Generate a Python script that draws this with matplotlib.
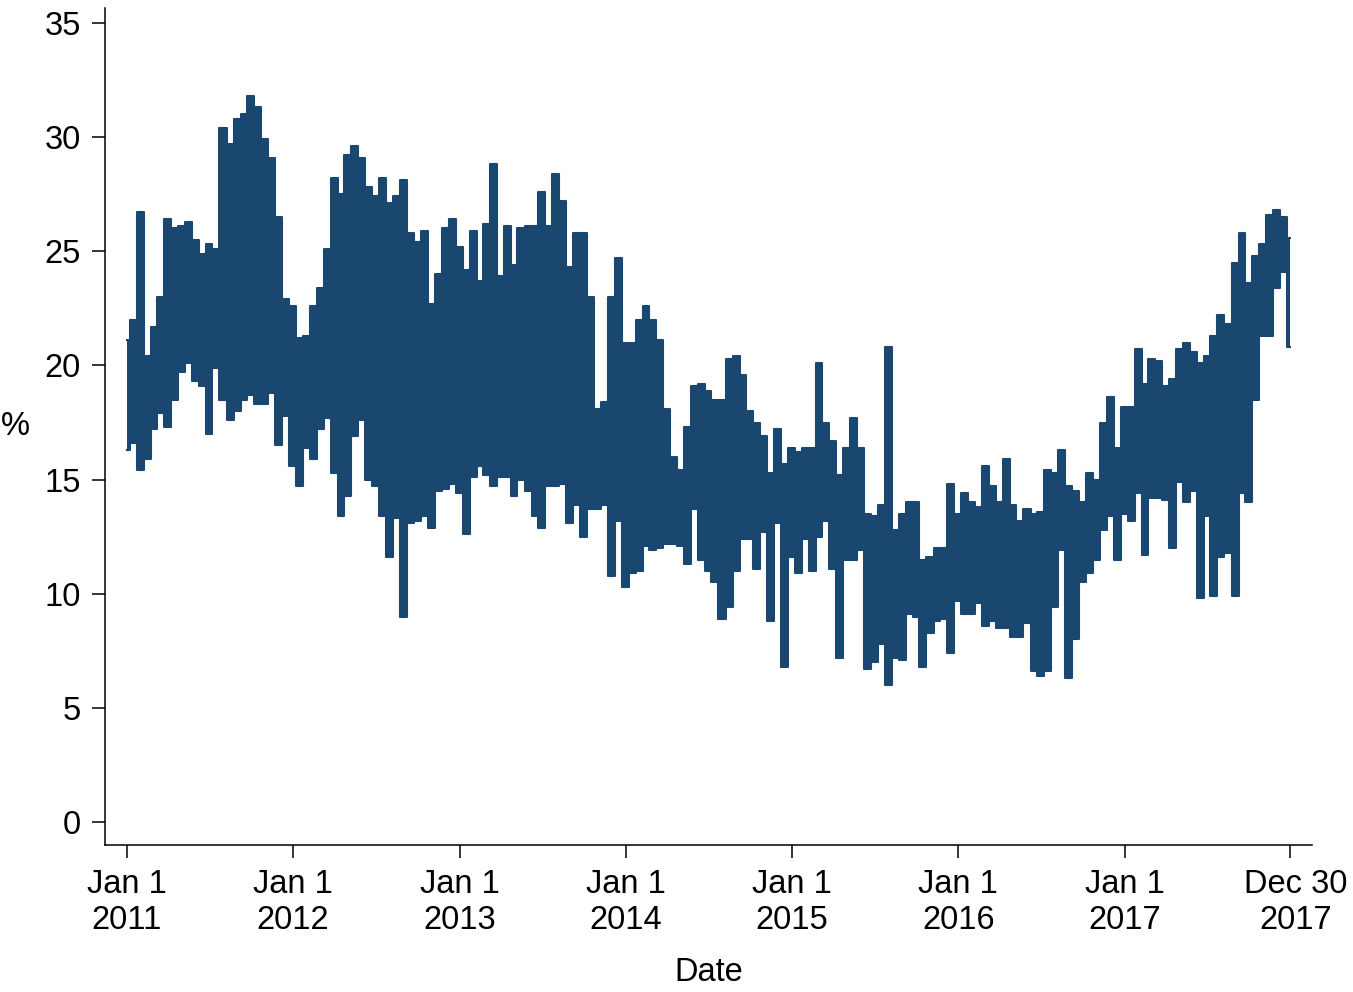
import matplotlib
matplotlib.use('Agg')
import matplotlib.pyplot as plt
import matplotlib.transforms as mtransforms
import pandas as pd

plt.rcParams['font.family'] = ['Liberation Sans', 'DejaVu Sans']

NAVY = '#1a476f'

# semi-monthly sampling of the daily series: upper and lower envelope per half month
dates = list(pd.date_range('2011-01-01', '2017-12-15', freq='SMS')) + [pd.Timestamp('2017-12-30')]

high = [21.1, 22.0, 26.7, 20.4, 21.7, 23.0, 26.4, 26.0, 26.1, 26.3,
        25.5, 24.9, 25.3, 25.1, 30.4, 29.7, 30.8, 31.0, 31.8, 31.3,
        29.9, 29.1, 26.5, 22.9, 22.6, 21.2, 21.3, 22.6, 23.4, 25.1,
        28.2, 27.5, 29.2, 29.6, 29.1, 27.8, 27.4, 28.2, 27.1, 27.4,
        28.1, 25.8, 25.4, 25.9, 22.7, 24.0, 26.0, 26.4, 25.2, 24.2,
        25.9, 23.7, 26.2, 28.8, 23.9, 26.1, 24.4, 26.0, 26.1, 26.1,
        27.6, 26.1, 28.4, 27.2, 24.3, 25.8, 25.8, 23.0, 18.1, 18.4,
        23.0, 24.7, 21.0, 21.0, 22.0, 22.6, 22.0, 21.1, 18.1, 16.0,
        15.4, 17.3, 19.1, 19.2, 18.9, 18.5, 18.5, 20.3, 20.4, 19.6,
        18.0, 17.5, 16.9, 15.3, 17.2, 15.7, 16.4, 16.2, 16.4, 16.4,
        20.1, 17.5, 16.7, 15.2, 16.4, 17.7, 16.4, 13.5, 13.4, 13.9,
        20.8, 12.8, 13.5, 14.0, 14.0, 11.5, 11.6, 12.0, 12.0, 14.8,
        13.5, 14.4, 14.0, 13.8, 15.6, 14.7, 14.0, 15.9, 13.9, 13.2,
        13.7, 13.5, 13.6, 15.4, 15.3, 16.3, 14.7, 14.5, 14.0, 15.3,
        15.0, 17.5, 18.6, 16.4, 18.2, 18.2, 20.7, 19.2, 20.3, 20.2,
        19.1, 19.4, 20.7, 21.0, 20.6, 20.1, 20.4, 21.3, 22.2, 21.8,
        24.5, 25.8, 23.6, 24.8, 25.3, 26.6, 26.8, 26.5,
        25.6]

low = [16.3, 16.6, 15.4, 15.9, 17.2, 17.9, 17.3, 18.5, 19.7, 20.1,
       19.3, 19.1, 17.0, 19.9, 18.5, 17.6, 18.0, 18.5, 18.7, 18.3,
       18.3, 18.8, 16.5, 17.8, 15.6, 14.7, 16.4, 15.9, 17.2, 17.7,
       15.3, 13.4, 14.3, 16.9, 17.6, 15.0, 14.7, 13.4, 11.6, 13.3,
       9.0, 13.1, 13.2, 13.4, 12.9, 14.5, 14.6, 14.8, 14.4, 12.6,
       15.1, 15.6, 15.2, 14.7, 15.1, 15.1, 14.3, 15.0, 14.5, 13.4,
       12.9, 14.7, 14.7, 14.8, 13.1, 13.9, 12.5, 13.7, 13.7, 13.9,
       10.8, 13.2, 10.3, 10.9, 11.0, 12.1, 11.9, 12.0, 12.2, 12.2,
       12.1, 11.3, 13.7, 11.5, 11.0, 10.5, 8.9, 9.4, 11.0, 12.4,
       12.4, 11.1, 12.7, 8.8, 13.1, 6.8, 11.6, 10.9, 12.4, 11.0,
       12.5, 13.2, 11.1, 7.2, 11.5, 11.5, 11.9, 6.7, 7.0, 7.8,
       6.0, 7.2, 7.1, 9.1, 9.0, 6.8, 8.3, 8.8, 8.9, 7.4,
       9.7, 9.1, 9.1, 9.6, 8.6, 8.8, 8.5, 8.5, 8.1, 8.1,
       8.7, 6.6, 6.4, 6.6, 9.4, 11.9, 6.3, 8.0, 10.5, 10.9,
       11.5, 12.8, 13.4, 11.5, 13.5, 13.2, 14.4, 11.7, 14.2, 14.2,
       14.1, 12.0, 14.9, 14.0, 14.5, 9.8, 13.4, 9.9, 11.6, 11.8,
       9.9, 14.4, 14.0, 18.5, 21.3, 21.3, 23.4, 24.1,
       20.8]

tick_dates = ['2011-01-01', '2012-01-01', '2013-01-01', '2014-01-01',
              '2015-01-01', '2016-01-01', '2017-01-01', '2017-12-30']
tick_labels = ['Jan 1\n2011', 'Jan 1\n2012', 'Jan 1\n2013', 'Jan 1\n2014',
               'Jan 1\n2015', 'Jan 1\n2016', 'Jan 1\n2017', 'Dec 30\n2017']

fig = plt.figure(figsize=(13.53, 9.92), dpi=100)
ax = fig.add_axes([0.0776, 0.1482, 0.892, 0.8437])

ax.fill_between(dates, low, high, step='mid', color=NAVY, lw=0)
ax.plot(dates, high, drawstyle='steps-mid', color=NAVY, lw=1.5)
ax.plot(dates, low, drawstyle='steps-mid', color=NAVY, lw=1.5)

ax.set_xlim(pd.Timestamp('2011-01-01') - pd.Timedelta(days=48),
            pd.Timestamp('2011-01-01') + pd.Timedelta(days=2603))
ax.set_ylim(-1.0, 35.65)

ax.set_yticks(range(0, 36, 5))
ax.set_xticks(pd.to_datetime(tick_dates))
ax.set_xticklabels(tick_labels, linespacing=1.2)

for s in ['top', 'right']:
    ax.spines[s].set_visible(False)
for s in ['left', 'bottom']:
    ax.spines[s].set_linewidth(1.1)

ax.tick_params(axis='both', labelsize=23.5, length=9.5, width=1.1, pad=8)

# last label sits a little to the right of its tick in the original
last = ax.get_xticklabels()[-1]
last.set_transform(last.get_transform() + mtransforms.ScaledTranslation(6 / 100, 0, fig.dpi_scale_trans))

ax.set_xlabel('Date', fontsize=23.5, labelpad=15)
ax.set_ylabel('%', fontsize=23.5, rotation=0, va='center', labelpad=21)

fig.savefig('out.png', dpi=100)
